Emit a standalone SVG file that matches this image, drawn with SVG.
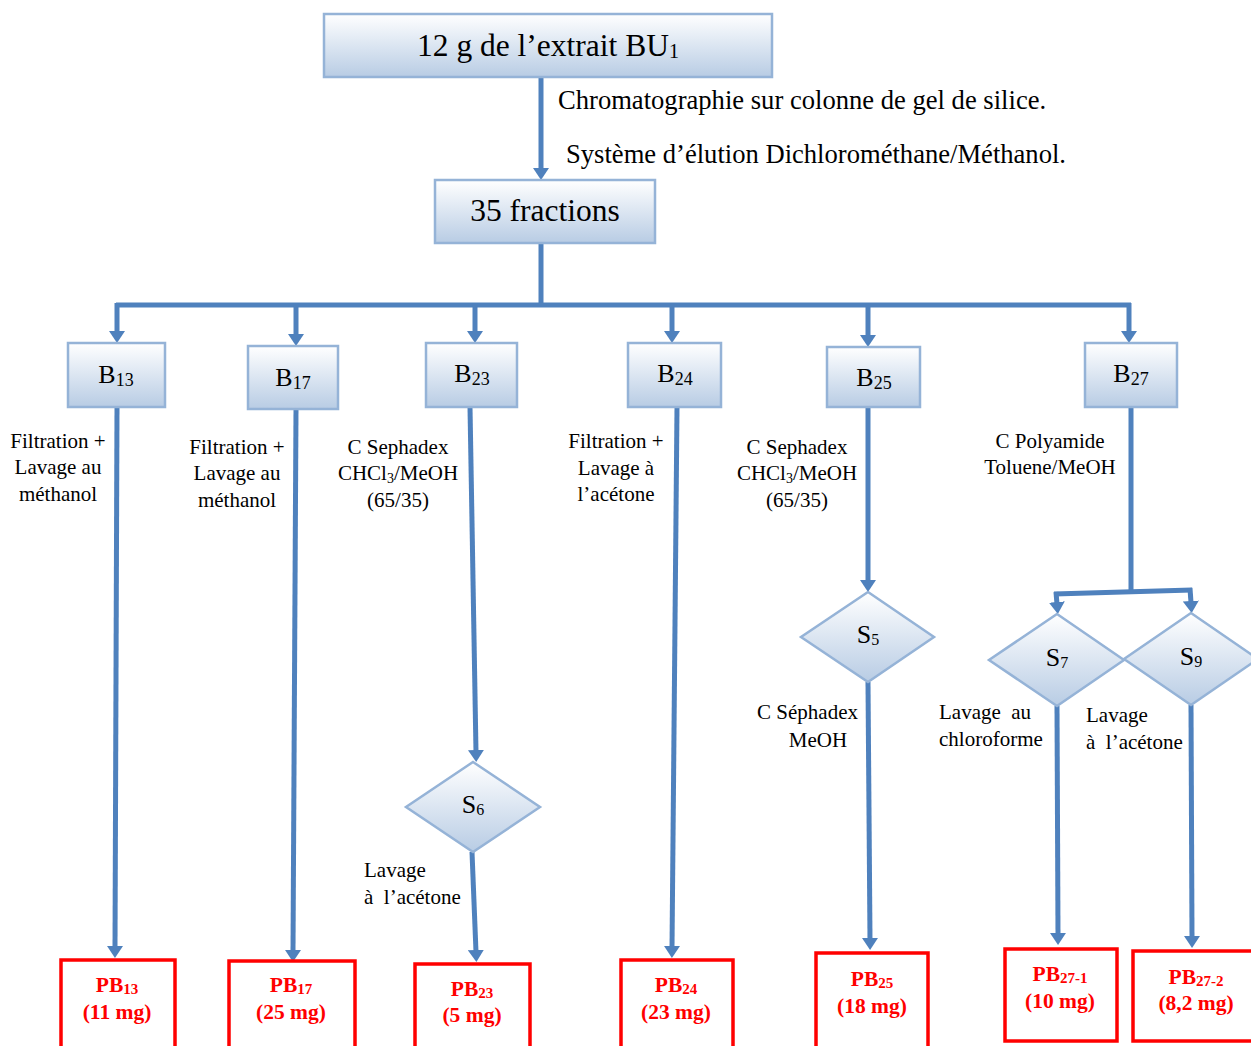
<svg xmlns="http://www.w3.org/2000/svg" width="1251" height="1046" viewBox="0 0 1251 1046">
  <defs>
    <linearGradient id="boxFill" x1="0" y1="0" x2="0" y2="1">
      <stop offset="0" stop-color="#FFFFFF"/>
      <stop offset="1" stop-color="#B8CCE4"/>
    </linearGradient>
    <marker id="arrow" markerUnits="userSpaceOnUse" markerWidth="14" markerHeight="16" refX="2" refY="8" orient="auto">
      <path d="M0,0 L12,8 L0,16 z" fill="#4F81BD"/>
    </marker>
    <style>
      .box { fill: url(#boxFill); stroke: #95B3D7; stroke-width: 2.5; }
      .res { fill: #FFFFFF; stroke: #FF0000; stroke-width: 3.5; }
      .link { stroke: #4F81BD; stroke-width: 5; fill: none; }
      .arr { marker-end: url(#arrow); }
      text { font-family: "Liberation Serif", "Times New Roman", serif; fill: #000000; }
      .big { font-size: 31.5px; text-anchor: middle; }
      .bnode { font-size: 26px; text-anchor: middle; }
      .sub { font-size: 18px; }
      .lbl { font-size: 21px; }
      .c { text-anchor: middle; }
      .note { font-size: 26.6px; }
      .red { font-size: 21.5px; font-weight: bold; fill: #FF0000; text-anchor: middle; }
      .redsub { font-size: 15px; }
    </style>
  </defs>

  <!-- connectors -->
  <g id="connectors">
    <line class="link arr" x1="541" y1="77" x2="541" y2="170"/>
    <line class="link" x1="541" y1="243" x2="541" y2="305"/>
    <line class="link" x1="116" y1="305" x2="1131" y2="305"/>
    <line class="link arr" x1="117" y1="303" x2="117" y2="333"/>
    <line class="link arr" x1="296" y1="303" x2="296" y2="336"/>
    <line class="link arr" x1="475" y1="303" x2="475" y2="333"/>
    <line class="link arr" x1="672" y1="303" x2="672" y2="333"/>
    <line class="link arr" x1="868" y1="303" x2="868" y2="337"/>
    <line class="link arr" x1="1129" y1="303" x2="1129" y2="333"/>

    <!-- B13 -->
    <line class="link arr" x1="117" y1="407" x2="115" y2="948"/>
    <!-- B17 -->
    <line class="link arr" x1="296" y1="409" x2="293" y2="952"/>
    <!-- B23 -> S6 -> PB23 -->
    <line class="link arr" x1="470" y1="407" x2="476" y2="752"/>
    <line class="link arr" x1="472" y1="852" x2="476" y2="952"/>
    <!-- B24 -->
    <line class="link arr" x1="677" y1="407" x2="672" y2="948"/>
    <!-- B25 -> S5 -> PB25 -->
    <line class="link arr" x1="868" y1="407" x2="868" y2="582"/>
    <line class="link arr" x1="868" y1="682" x2="870" y2="940"/>
    <!-- B27 -> S7 / S9 -->
    <line class="link" x1="1131" y1="407" x2="1131" y2="592"/>
    <line class="link" x1="1054" y1="594" x2="1192" y2="590"/>
    <line class="link arr" x1="1056" y1="592" x2="1057" y2="604"/>
    <line class="link arr" x1="1190" y1="588" x2="1191" y2="603"/>
    <line class="link arr" x1="1057" y1="706" x2="1058" y2="935"/>
    <line class="link arr" x1="1191" y1="705" x2="1192" y2="938"/>
  </g>

  <!-- connector labels -->
  <g id="labels">
    <text class="note" x="558" y="109">Chromatographie sur colonne de gel de silice.</text>
    <text class="note" x="566" y="163">Système d’élution Dichlorométhane/Méthanol.</text>

    <text class="lbl c" x="58" y="448">Filtration +</text>
    <text class="lbl c" x="58" y="474">Lavage au</text>
    <text class="lbl c" x="58" y="501">méthanol</text>

    <text class="lbl c" x="237" y="454">Filtration +</text>
    <text class="lbl c" x="237" y="480">Lavage au</text>
    <text class="lbl c" x="237" y="507">méthanol</text>

    <text class="lbl c" x="398" y="454">C Sephadex</text>
    <text class="lbl c" x="398" y="480">CHCl<tspan font-size="14" dy="3">3</tspan><tspan dy="-3">/MeOH</tspan></text>
    <text class="lbl c" x="398" y="507">(65/35)</text>

    <text class="lbl c" x="616" y="448">Filtration +</text>
    <text class="lbl c" x="616" y="475">Lavage à</text>
    <text class="lbl c" x="616" y="501">l’acétone</text>

    <text class="lbl c" x="797" y="454">C Sephadex</text>
    <text class="lbl c" x="797" y="480">CHCl<tspan font-size="14" dy="3">3</tspan><tspan dy="-3">/MeOH</tspan></text>
    <text class="lbl c" x="797" y="507">(65/35)</text>

    <text class="lbl c" x="1050" y="448">C Polyamide</text>
    <text class="lbl c" x="1050" y="474">Toluene/MeOH</text>

    <text class="lbl" x="858" y="719" text-anchor="end">C Séphadex</text>
    <text class="lbl c" x="818" y="747">MeOH</text>

    <text class="lbl" x="939" y="719" xml:space="preserve">Lavage  au</text>
    <text class="lbl" x="939" y="746">chloroforme</text>

    <text class="lbl" x="1086" y="722">Lavage</text>
    <text class="lbl" x="1086" y="749" xml:space="preserve">à  l’acétone</text>

    <text class="lbl" x="364" y="877">Lavage</text>
    <text class="lbl" x="364" y="904" xml:space="preserve">à  l’acétone</text>
  </g>

  <!-- source extract -->
  <g id="extract">
    <rect class="box" x="324" y="14" width="448" height="63"/>
    <text class="big" x="548" y="56">12 g de l’extrait BU<tspan font-size="20" dy="2">1</tspan></text>
  </g>

  <g id="fractions">
    <rect class="box" x="435" y="180" width="220" height="63"/>
    <text class="big" x="545" y="221" font-size="32">35 fractions</text>
  </g>

  <!-- fraction groups -->
  <g id="B13">
    <rect class="box" x="68" y="343" width="97" height="64"/>
    <text class="bnode" x="116" y="383">B<tspan class="sub" dy="3">13</tspan></text>
  </g>
  <g id="B17">
    <rect class="box" x="248" y="346" width="90" height="63"/>
    <text class="bnode" x="293" y="386">B<tspan class="sub" dy="3">17</tspan></text>
  </g>
  <g id="B23">
    <rect class="box" x="426" y="343" width="91" height="64"/>
    <text class="bnode" x="472" y="382">B<tspan class="sub" dy="3">23</tspan></text>
  </g>
  <g id="B24">
    <rect class="box" x="628" y="343" width="93" height="64"/>
    <text class="bnode" x="675" y="382">B<tspan class="sub" dy="3">24</tspan></text>
  </g>
  <g id="B25">
    <rect class="box" x="827" y="347" width="93" height="60"/>
    <text class="bnode" x="874" y="386">B<tspan class="sub" dy="3">25</tspan></text>
  </g>
  <g id="B27">
    <rect class="box" x="1085" y="343" width="92" height="64"/>
    <text class="bnode" x="1131" y="382">B<tspan class="sub" dy="3">27</tspan></text>
  </g>

  <!-- sub-fractions -->
  <g id="S5">
    <polygon class="box" points="868,592 934,637 868,682 801,637"/>
    <text class="bnode" x="868" y="643" font-size="22">S<tspan font-size="16" dy="2">5</tspan></text>
  </g>
  <g id="S6">
    <polygon class="box" points="473,762 540,807 473,852 406,807"/>
    <text class="bnode" x="473" y="813" font-size="22">S<tspan font-size="16" dy="2">6</tspan></text>
  </g>
  <g id="S7">
    <polygon class="box" points="1057,614 1124,660 1057,706 989,660"/>
    <text class="bnode" x="1057" y="666" font-size="22">S<tspan font-size="16" dy="2">7</tspan></text>
  </g>
  <g id="S9">
    <polygon class="box" points="1191,613 1258,659 1191,705 1124,659"/>
    <text class="bnode" x="1191" y="665" font-size="22">S<tspan font-size="16" dy="2">9</tspan></text>
  </g>

  <!-- isolated products -->
  <g id="PB13">
    <rect class="res" x="61" y="960" width="114" height="90"/>
    <text class="red" x="117" y="992">PB<tspan class="redsub" dy="2">13</tspan></text>
    <text class="red" x="117" y="1019">(11 mg)</text>
  </g>
  <g id="PB17">
    <rect class="res" x="229" y="961" width="126" height="90"/>
    <text class="red" x="291" y="992">PB<tspan class="redsub" dy="2">17</tspan></text>
    <text class="red" x="291" y="1019">(25 mg)</text>
  </g>
  <g id="PB23">
    <rect class="res" x="415" y="964" width="115" height="90"/>
    <text class="red" x="472" y="996">PB<tspan class="redsub" dy="2">23</tspan></text>
    <text class="red" x="472" y="1022">(5 mg)</text>
  </g>
  <g id="PB24">
    <rect class="res" x="621" y="960" width="112" height="90"/>
    <text class="red" x="676" y="992">PB<tspan class="redsub" dy="2">24</tspan></text>
    <text class="red" x="676" y="1019">(23 mg)</text>
  </g>
  <g id="PB25">
    <rect class="res" x="816" y="953" width="112" height="95"/>
    <text class="red" x="872" y="986">PB<tspan class="redsub" dy="2">25</tspan></text>
    <text class="red" x="872" y="1013">(18 mg)</text>
  </g>
  <g id="PB27-1">
    <rect class="res" x="1005" y="949" width="112" height="92"/>
    <text class="red" x="1060" y="981">PB<tspan class="redsub" dy="2">27-1</tspan></text>
    <text class="red" x="1060" y="1008">(10 mg)</text>
  </g>
  <g id="PB27-2">
    <rect class="res" x="1133" y="951" width="125" height="90"/>
    <text class="red" x="1196" y="984">PB<tspan class="redsub" dy="2">27-2</tspan></text>
    <text class="red" x="1196" y="1010">(8,2 mg)</text>
  </g>
</svg>
